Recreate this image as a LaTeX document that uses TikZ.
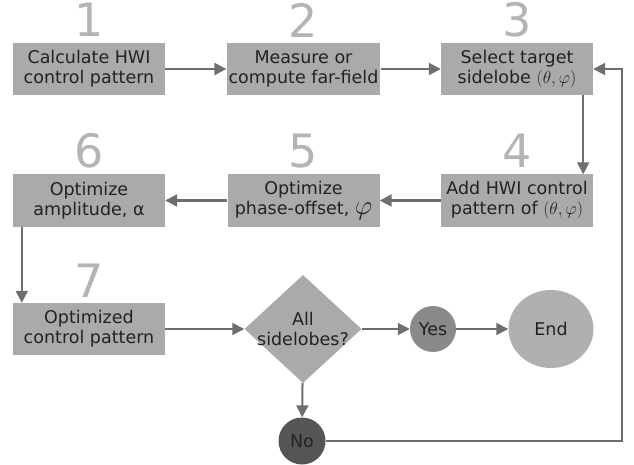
\RequirePackage{fix-cm}
\documentclass[tikz,border=0pt]{standalone}
\usepackage{fontspec}
\setmainfont{DejaVu Sans}
\usetikzlibrary{arrows.meta}
\usetikzlibrary{shapes.geometric}
\usepackage{xcolor}
\definecolor{boxgray}{HTML}{AAAAAA}
\definecolor{numgray}{HTML}{B4B4B4}
\definecolor{linegray}{HTML}{6E6E6E}
\definecolor{yesgray}{HTML}{8A8A8A}
\definecolor{nogray}{HTML}{555555}
\definecolor{endgray}{HTML}{B0B0B0}
\definecolor{txt}{HTML}{222222}
\newcommand{\bigphi}{{\fontsize{27}{20}\selectfont$\varphi$}}
\tikzset{
 stepbox/.style={fill=boxgray, minimum width=152pt, minimum height=52pt, inner sep=2pt, align=center, text=txt},
 num/.style={text=numgray, inner sep=0pt, font=\fontsize{46}{46}\selectfont},
 flow/.style={draw=linegray, line width=2pt, -{Triangle[length=12pt,width=12pt]}},
}

\begin{document}
\begin{tikzpicture}[x=1pt,y=-1pt,font=\fontsize{17.5}{20}\selectfont]
\useasboundingbox (0,0) rectangle (634,465);
\node[stepbox] (calc) at (89,69) {Calculate HWI\\control pattern};
\node[stepbox] (meas) at (303.5,69) {Measure or\\compute far-field};
\node[stepbox] (sel) at (517,69) {Select target\\sidelobe $(\theta,\varphi)$};
\node[stepbox] (add) at (517,200.5) {Add HWI control\\pattern of $(\theta,\varphi)$};
\node[stepbox] (phase) at (303.5,200.5) {Optimize\\phase-offset, \bigphi};
\node[stepbox] (ampl) at (89,200.5) {Optimize\\amplitude, α};
\node[stepbox] (final) at (89,329) {Optimized\\control pattern};
\node[diamond, fill=boxgray, minimum width=117pt, minimum height=108pt, inner sep=-8pt, align=center, text=txt] (check) at (303,329) {All\\sidelobes?};
\node[circle, fill=yesgray, minimum size=46pt, inner sep=0pt, text=txt] (yes) at (433,329) {Yes};
\node[ellipse, fill=endgray, minimum width=85pt, minimum height=78pt, inner sep=0pt, text=txt] (end) at (551,329) {End};
\node[circle, fill=nogray, minimum size=47pt, inner sep=0pt, text=txt] (no) at (302,441) {No};
\foreach \n/\x/\y in {1/89/20,2/303.5/20,3/517/20,4/517/151,5/303.5/151,6/89/151,7/89/281}
 \node[num] (n\n) at (\x,\y) {\n};
\draw[flow] (calc) -- (meas);
\draw[flow] (meas) -- (sel);
\draw[flow] ([xshift=-10pt]sel.south east) -- ([xshift=-10pt]add.north east);
\draw[flow] (add) -- (phase);
\draw[flow] (phase) -- (ampl);
\draw[flow] ([xshift=9pt]ampl.south west) -- ([xshift=9pt]final.north west);
\draw[flow] (final) -- (check);
\draw[flow] (check) -- (yes);
\draw[flow] (yes) -- (end);
\draw[flow] (check) -- (no);
\coordinate (turn) at (622,441);
\draw[flow] (no.east) -- (turn) |- (sel.east);
\end{tikzpicture}
\end{document}
